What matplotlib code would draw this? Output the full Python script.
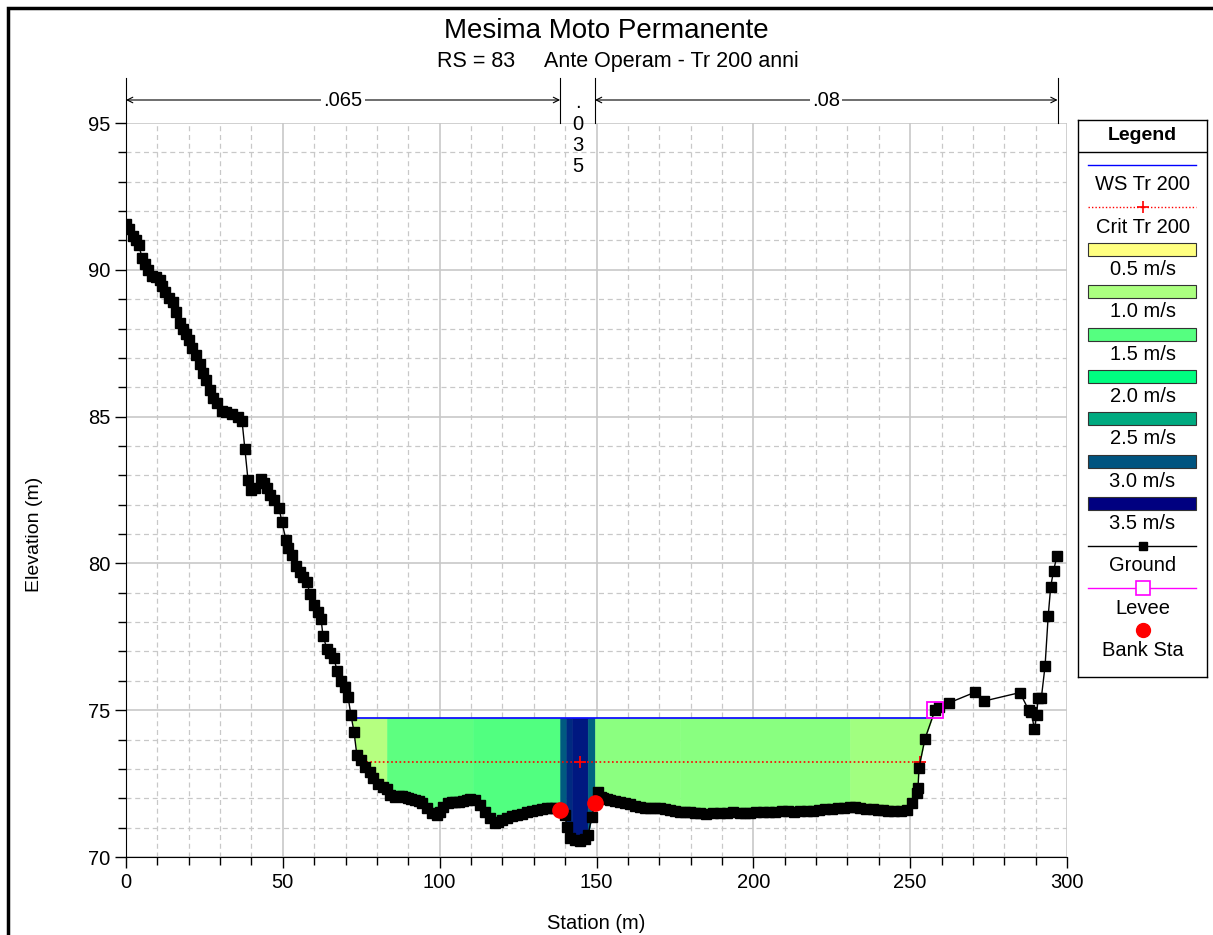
import matplotlib
import matplotlib.pyplot as plt
import matplotlib.ticker as mticker
import numpy as np
from matplotlib.colors import LinearSegmentedColormap, Normalize
from matplotlib.patches import Rectangle

matplotlib.use("Agg")

plt.rcParams["font.family"] = ["Liberation Sans", "DejaVu Sans"]

# Dati della sezione (RS = 83)
GROUND_STA = [
    0.0, 1.0, 2.2, 3.2, 4.1, 5.1, 6.0, 7.0, 8.3, 9.6, 10.8, 11.5, 12.4, 13.7,
    15.0, 16.0, 17.2, 18.2, 19.1, 20.1, 21.0, 22.3, 23.6, 24.5, 25.5, 26.8,
    27.7, 29.0, 30.6, 31.9, 33.8, 35.7, 37.0, 37.9, 38.9, 39.8, 41.1, 43.0,
    44.0, 45.0, 45.9, 47.2, 48.8, 49.7, 51.0, 51.6, 52.9, 54.2, 55.5, 56.4,
    57.7, 58.6, 59.9, 61.2, 62.2, 62.8, 64.1, 65.0, 66.3, 67.3, 68.5, 69.8,
    70.8, 71.7, 72.7, 73.6, 74.9, 76.2, 77.8, 78.7, 80.3, 81.9, 83.2, 84.2,
    85.8, 87.0, 88.0, 89.0, 89.9, 91.0, 92.1, 93.3, 94.4, 95.9, 97.5, 99.1,
    100.1, 101.1, 102.6, 103.8, 104.9, 106.2, 107.4, 108.6, 109.7, 111.3,
    112.8, 114.4, 116.0, 117.6, 118.6, 120.0, 121.4, 123.0, 124.6, 126.2,
    127.8, 129.4, 131.0, 132.6, 134.2, 135.5, 136.8, 138.4, 139.9, 140.6,
    141.5, 143.1, 144.7, 146.3, 147.3, 148.5, 149.5, 150.5, 151.3, 152.0,
    153.2, 154.3, 155.9, 157.5, 159.1, 160.7, 162.3, 163.9, 165.5, 167.0,
    168.6, 170.2, 171.8, 173.4, 175.0, 176.6, 178.2, 179.8, 181.4, 183.0,
    185.0, 187.1, 189.3, 191.6, 193.6, 195.7, 197.3, 199.0, 201.0, 203.0,
    205.0, 207.0, 209.0, 211.0, 213.0, 214.9, 217.0, 219.0, 221.0, 223.0,
    225.0, 227.0, 229.0, 230.8, 232.4, 234.0, 236.0, 238.0, 239.6, 241.3,
    243.0, 245.0, 247.0, 249.0, 250.6, 252.1, 252.5, 252.8, 254.7, 257.9,
    259.2, 262.4, 270.6, 273.5, 285.0, 287.8, 288.6, 289.6, 290.3, 290.8,
    291.8, 293.0, 294.0, 294.8, 295.7, 296.8,
]
GROUND_ELEV = [
    91.55, 91.4, 91.15, 91.0, 90.85, 90.4, 90.2, 90.0, 89.8, 89.75, 89.65,
    89.45, 89.25, 89.05, 88.9, 88.55, 88.2, 88.0, 87.8, 87.6, 87.35, 87.1,
    86.8, 86.5, 86.25, 85.9, 85.65, 85.45, 85.2, 85.15, 85.1, 85.0, 84.85,
    83.9, 82.84, 82.5, 82.57, 82.87, 82.74, 82.57, 82.33, 82.16, 81.89,
    81.41, 80.8, 80.52, 80.29, 79.91, 79.71, 79.54, 79.37, 78.96, 78.58,
    78.34, 78.1, 77.53, 77.08, 76.95, 76.78, 76.33, 76.0, 75.8, 75.45, 74.84,
    74.26, 73.47, 73.3, 73.07, 72.9, 72.7, 72.5, 72.4, 72.3, 72.1,
    72.05, 72.07, 72.08, 72.04, 72.0, 71.97, 71.94, 71.9, 71.84, 71.67, 71.5,
    71.43, 71.53, 71.7, 71.84, 71.86, 71.87, 71.88, 71.9, 71.93, 71.97,
    71.94, 71.77, 71.53, 71.33, 71.16, 71.2, 71.27, 71.33, 71.38, 71.43,
    71.48, 71.53, 71.57, 71.6, 71.63, 71.67, 71.68, 71.67, 71.6, 71.43,
    71.02, 70.65, 70.58, 70.55, 70.61, 70.75, 71.36, 71.84, 72.2, 72.05,
    72.0, 71.97, 71.94, 71.9, 71.87, 71.84, 71.8, 71.75, 71.7, 71.68, 71.67,
    71.68, 71.67, 71.63, 71.6, 71.56, 71.53, 71.52, 71.53, 71.5, 71.5,
    71.48, 71.5, 71.5, 71.5, 71.52, 71.5, 71.5, 71.5, 71.52, 71.52,
    71.54, 71.53, 71.55, 71.55, 71.54, 71.55, 71.57, 71.58, 71.6, 71.62,
    71.64, 71.66, 71.68, 71.7, 71.7, 71.68, 71.65, 71.62, 71.6, 71.6,
    71.58, 71.58, 71.57, 71.6, 71.84, 72.18, 72.35, 73.03, 74.02, 75.0,
    75.1, 75.25, 75.61, 75.31, 75.6, 75.0, 74.95, 74.35, 74.85, 75.4,
    75.4, 76.5, 78.2, 79.2, 79.75, 80.25,
]
WS_ELEV = 74.73
CRIT_ELEV = 73.24
BANK_STA = [138.4, 149.5]
LEVEE_STA = [257.9]
LEVEE_ELEV = [75.0]

# Distribuzione delle velocita' per strisce verticali
STRIP_EDGES = [70.0, 83.2, 110.6, 138.4, 140.4, 142.3, 147.2, 149.5,
               176.6, 230.8, 260.0]
STRIP_VEL = [0.94, 1.45, 1.52, 2.97, 3.25, 3.35, 2.91, 1.19, 1.2, 1.06]

# Coefficienti di Manning
MANNING_EDGES = [0.0, 138.4, 149.5, 297.0]
MANNING_N = [".065", ".035", ".08"]

VEL_LEVELS = [0.5, 1.0, 1.5, 2.0, 2.5, 3.0, 3.5]
VEL_COLORS = ["#ffff80", "#aaff80", "#55ff80", "#00ff80",
              "#00aa80", "#005580", "#000080"]

_cmap = LinearSegmentedColormap.from_list("vel", VEL_COLORS)
_norm = Normalize(vmin=VEL_LEVELS[0], vmax=VEL_LEVELS[-1])

st = np.array(GROUND_STA)
el = np.array(GROUND_ELEV)
i_min = int(np.argmin(el))


def crossings(level):
    """Stazioni in cui il terreno interseca ``level`` ai lati del talweg."""
    i0 = i_min
    while el[i0 - 1] < level:
        i0 -= 1
    i1 = i_min
    while el[i1 + 1] < level:
        i1 += 1
    x_left = np.interp(level, [el[i0], el[i0 - 1]], [st[i0], st[i0 - 1]])
    x_right = np.interp(level, [el[i1], el[i1 + 1]], [st[i1], st[i1 + 1]])
    return x_left, x_right


fig = plt.figure(figsize=(12.13, 9.35), dpi=100)
ax = fig.add_axes([126 / 1213, 1 - 857 / 935, 941 / 1213, 734 / 935])

ws_l, ws_r = crossings(WS_ELEV)
cr_l, cr_r = crossings(CRIT_ELEV)

# Riempimento velocita'
for x0, x1, v in zip(STRIP_EDGES[:-1], STRIP_EDGES[1:], STRIP_VEL):
    x0, x1 = max(x0, ws_l), min(x1, ws_r)
    xs = np.unique(np.concatenate([[x0, x1], st[(st > x0) & (st < x1)]]))
    zs = np.interp(xs, st, el)
    col = _cmap(_norm(v))
    ax.fill_between(xs, zs, WS_ELEV, facecolor=col, edgecolor=col, lw=0.4,
                    zorder=2)

# Pelo libero e livello critico
ax.plot([ws_l, ws_r], [WS_ELEV, WS_ELEV], color="#0000ff", lw=1.2, zorder=3)
ax.plot([cr_l, cr_r], [CRIT_ELEV, CRIT_ELEV], color="red", lw=1.2,
        ls=(0, (1, 1.5)), zorder=3)
ax.plot([cr_l, st[i_min], cr_r], [CRIT_ELEV] * 3, ls="none", marker="+",
        color="red", ms=9, mew=1.3, zorder=4)

# Terreno
ax.plot(st, el, color="black", lw=1, marker="s", ms=7, zorder=5)
ax.plot(LEVEE_STA, LEVEE_ELEV, ls="none", marker="s", ms=11, mfc="none",
        mec="#ff00ff", mew=1.3, zorder=6)
ax.plot(BANK_STA, np.interp(BANK_STA, st, el), ls="none", marker="o",
        ms=11, color="red", zorder=6)

ax.set_xlim(0, 300)
ax.set_ylim(70, 95)
ax.xaxis.set_major_locator(mticker.MultipleLocator(50))
ax.xaxis.set_minor_locator(mticker.MultipleLocator(10))
ax.yaxis.set_major_locator(mticker.MultipleLocator(5))
ax.yaxis.set_minor_locator(mticker.MultipleLocator(1))
ax.grid(which="major", color="#c8c8c8", lw=1.2, zorder=0)
ax.grid(which="minor", color="#c8c8c8", lw=0.9, ls=(0, (4, 3)), zorder=0)
ax.set_axisbelow(True)
ax.tick_params(which="major", direction="out", length=8, width=1,
               labelsize=14.5)
ax.tick_params(which="minor", direction="out", length=6, width=1)
for side in ("top", "right"):
    ax.spines[side].set_visible(False)
ax.set_xlabel("Station (m)", fontsize=14.5)
ax.set_ylabel("Elevation (m)", fontsize=14)
ax.xaxis.set_label_coords(0.5, -0.078)
ax.yaxis.set_label_coords(-0.088, 0.44)

# Titoli
fig.text(0.5, 1 - 31 / 935, "Mesima Moto Permanente", ha="center",
         va="center", fontsize=20)
fig.text(437 / 1213, 1 - 62 / 935, "RS = 83     Ante Operam - Tr 200 anni",
         ha="left", va="center", fontsize=15.5)

# Quote di Manning sopra il grafico
btrans = matplotlib.transforms.blended_transform_factory(ax.transData,
                                                         ax.transAxes)
y_arrow = (857 - 100) / 734
y_top = (857 - 78) / 734
for x in MANNING_EDGES:
    ax.plot([x, x], [1.0, y_top], color="black", lw=0.8, transform=btrans,
            clip_on=False)
for i, label in enumerate(MANNING_N):
    x0, x1 = MANNING_EDGES[i], MANNING_EDGES[i + 1]
    if x1 - x0 > 30:
        ax.annotate("", xy=(x0, y_arrow), xytext=(x1, y_arrow),
                    xycoords=btrans, textcoords=btrans,
                    arrowprops=dict(arrowstyle="<->", lw=0.8, color="black",
                                    shrinkA=0, shrinkB=0))
        ax.text((x0 + x1) / 2, y_arrow, label, transform=btrans,
                ha="center", va="center", fontsize=14.5,
                bbox=dict(facecolor="white", edgecolor="none", pad=1.5))
    else:
        for k, ch in enumerate(label):
            ax.text((x0 + x1) / 2, y_arrow - 0.004 - k * 0.0288, ch,
                    transform=btrans, ha="center", va="center", fontsize=14.5)

# Legenda disegnata a mano
lg = fig.add_axes([1078 / 1213, 1 - 677 / 935, 129 / 1213, 557 / 935])
lg.set_xlim(0, 1)
lg.set_ylim(557, 0)
lg.set_xticks([])
lg.set_yticks([])
for sp in lg.spines.values():
    sp.set_linewidth(1)
lg.text(0.5, 15, "Legend", ha="center", va="center", fontsize=14,
        fontweight="bold")
lg.axhline(32, color="black", lw=1)

entries = [("WS Tr 200", "ws"), ("Crit Tr 200", "crit")]
entries += [(f"{v:.1f} m/s", "vel") for v in VEL_LEVELS]
entries += [("Ground", "ground"), ("Levee", "levee"), ("Bank Sta", "bank")]
xl, xr = 0.078, 0.915
for k, (label, kind) in enumerate(entries):
    y = 45 + k * 42.3
    if kind == "ws":
        lg.plot([xl, xr], [y, y], color="#0000ff", lw=1)
    elif kind == "crit":
        lg.plot([xl, xr], [y, y], color="red", lw=1, ls=(0, (1, 1.5)))
        lg.plot([0.5], [y], marker="+", color="red", ms=8, mew=1.2)
    elif kind == "vel":
        v = VEL_LEVELS[k - 2]
        lg.add_patch(Rectangle((xl, y - 6.5), xr - xl, 13,
                               facecolor=_cmap(_norm(v)), edgecolor="#333333",
                               lw=0.8))
    elif kind == "ground":
        lg.plot([xl, xr], [y, y], color="black", lw=1)
        lg.plot([0.5], [y], marker="s", color="black", ms=6)
    elif kind == "levee":
        lg.plot([xl, xr], [y, y], color="#ff00ff", lw=1)
        lg.plot([0.5], [y], marker="s", ms=10, mfc="white", mec="#ff00ff",
                mew=1.2)
    elif kind == "bank":
        lg.plot([0.5], [y], marker="o", color="red", ms=10)
    lg.text(0.5, y + 20, label, ha="center", va="center", fontsize=14.5)

# Cornice esterna
fig.patches.append(Rectangle((8 / 1213, -0.1), 1.2, 1.1 - 8 / 935,
                             transform=fig.transFigure, fill=False,
                             edgecolor="black", lw=2.5))

fig.savefig("out.png", dpi=100)
plt.close(fig)
